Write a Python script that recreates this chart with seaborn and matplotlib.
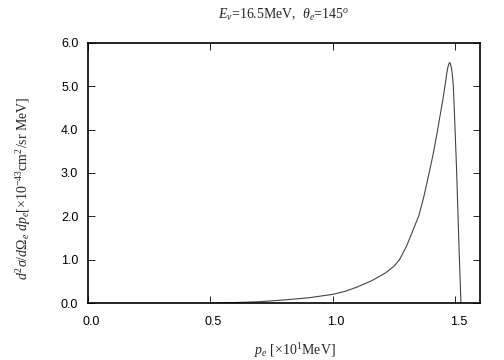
import matplotlib
matplotlib.use("Agg")
import matplotlib.pyplot as plt
import matplotlib.transforms as mtransforms
import seaborn as sns
import pandas as pd

pe = [0.50, 0.60, 0.70, 0.80, 0.90, 1.00, 1.05, 1.10, 1.16, 1.214, 1.25, 1.272, 1.30, 1.32,
      1.35, 1.37, 1.393, 1.41, 1.428, 1.44, 1.45, 1.458, 1.465, 1.47, 1.476, 1.48, 1.485,
      1.488, 1.492, 1.499, 1.505, 1.51, 1.515, 1.523]
xs = [0.00, 0.01, 0.03, 0.07, 0.12, 0.20, 0.27, 0.37, 0.52, 0.69, 0.85, 1.00, 1.30, 1.58,
      2.00, 2.42, 3.00, 3.45, 4.00, 4.40, 4.72, 5.02, 5.30, 5.45, 5.55, 5.52, 5.40,
      5.25, 5.00, 4.00, 3.10, 2.20, 1.30, 0.00]
xticks = [0.0, 0.5, 1.0, 1.5]
yticks = [0.0, 1.0, 2.0, 3.0, 4.0, 5.0, 6.0]

df = pd.DataFrame({"pe": pe, "xs": xs})

sns.set_style("ticks")
plt.rcParams['font.family'] = ['Liberation Sans', 'DejaVu Sans']
plt.rcParams['mathtext.fontset'] = 'custom'
plt.rcParams['mathtext.rm'] = 'Liberation Serif'
plt.rcParams['mathtext.it'] = 'Liberation Serif:italic'
plt.rcParams['mathtext.bf'] = 'Liberation Serif:bold'

fig = plt.figure(figsize=(5.04, 3.6), dpi=100)
ax = fig.add_axes([0.1746, 0.1583, 0.7774, 0.7223])
sns.lineplot(data=df, x="pe", y="xs", ax=ax, color="#444444", linewidth=0.8)
ax.set_xlim(0, 1.6)
ax.set_ylim(0, 6)
ax.set_xticks(xticks)
ax.set_xticklabels([f"{t:.1f}" for t in xticks])
ax.set_yticks(yticks)
ax.set_yticklabels([f"{t:.1f}" for t in yticks])
ax.tick_params(direction="in", top=True, right=True, length=5, width=0.6,
               labelsize=9, colors="black")
ax.tick_params(axis="x", pad=9)
ax.tick_params(axis="y", pad=7)
offset = mtransforms.ScaledTranslation(3 / 100, 0, fig.dpi_scale_trans)
for lab in ax.get_xticklabels():
    lab.set_transform(lab.get_transform() + offset)
for s in ax.spines.values():
    s.set_linewidth(1.2)
    s.set_color("black")
    s.set_visible(True)
serif = ['Liberation Serif', 'DejaVu Serif']
ax.set_title(r"$E_{\nu}$=16.5MeV,  $\theta_{e}$=145$^{o}$", fontsize=10, family=serif, pad=17)
ax.set_xlabel(r"$p_e$ [$\times$10$^{1}$MeV]", fontsize=10, family=serif)
ax.xaxis.set_label_coords(0.528, -0.145)
ax.set_ylabel(r"$d^2\sigma/d\Omega_e\ dp_e$[$\times$10$^{-43}$cm$^2$/sr MeV]", fontsize=10,
              family=serif)
ax.yaxis.set_label_coords(-0.14, 0.442)
fig.savefig("out.png", dpi=100)
